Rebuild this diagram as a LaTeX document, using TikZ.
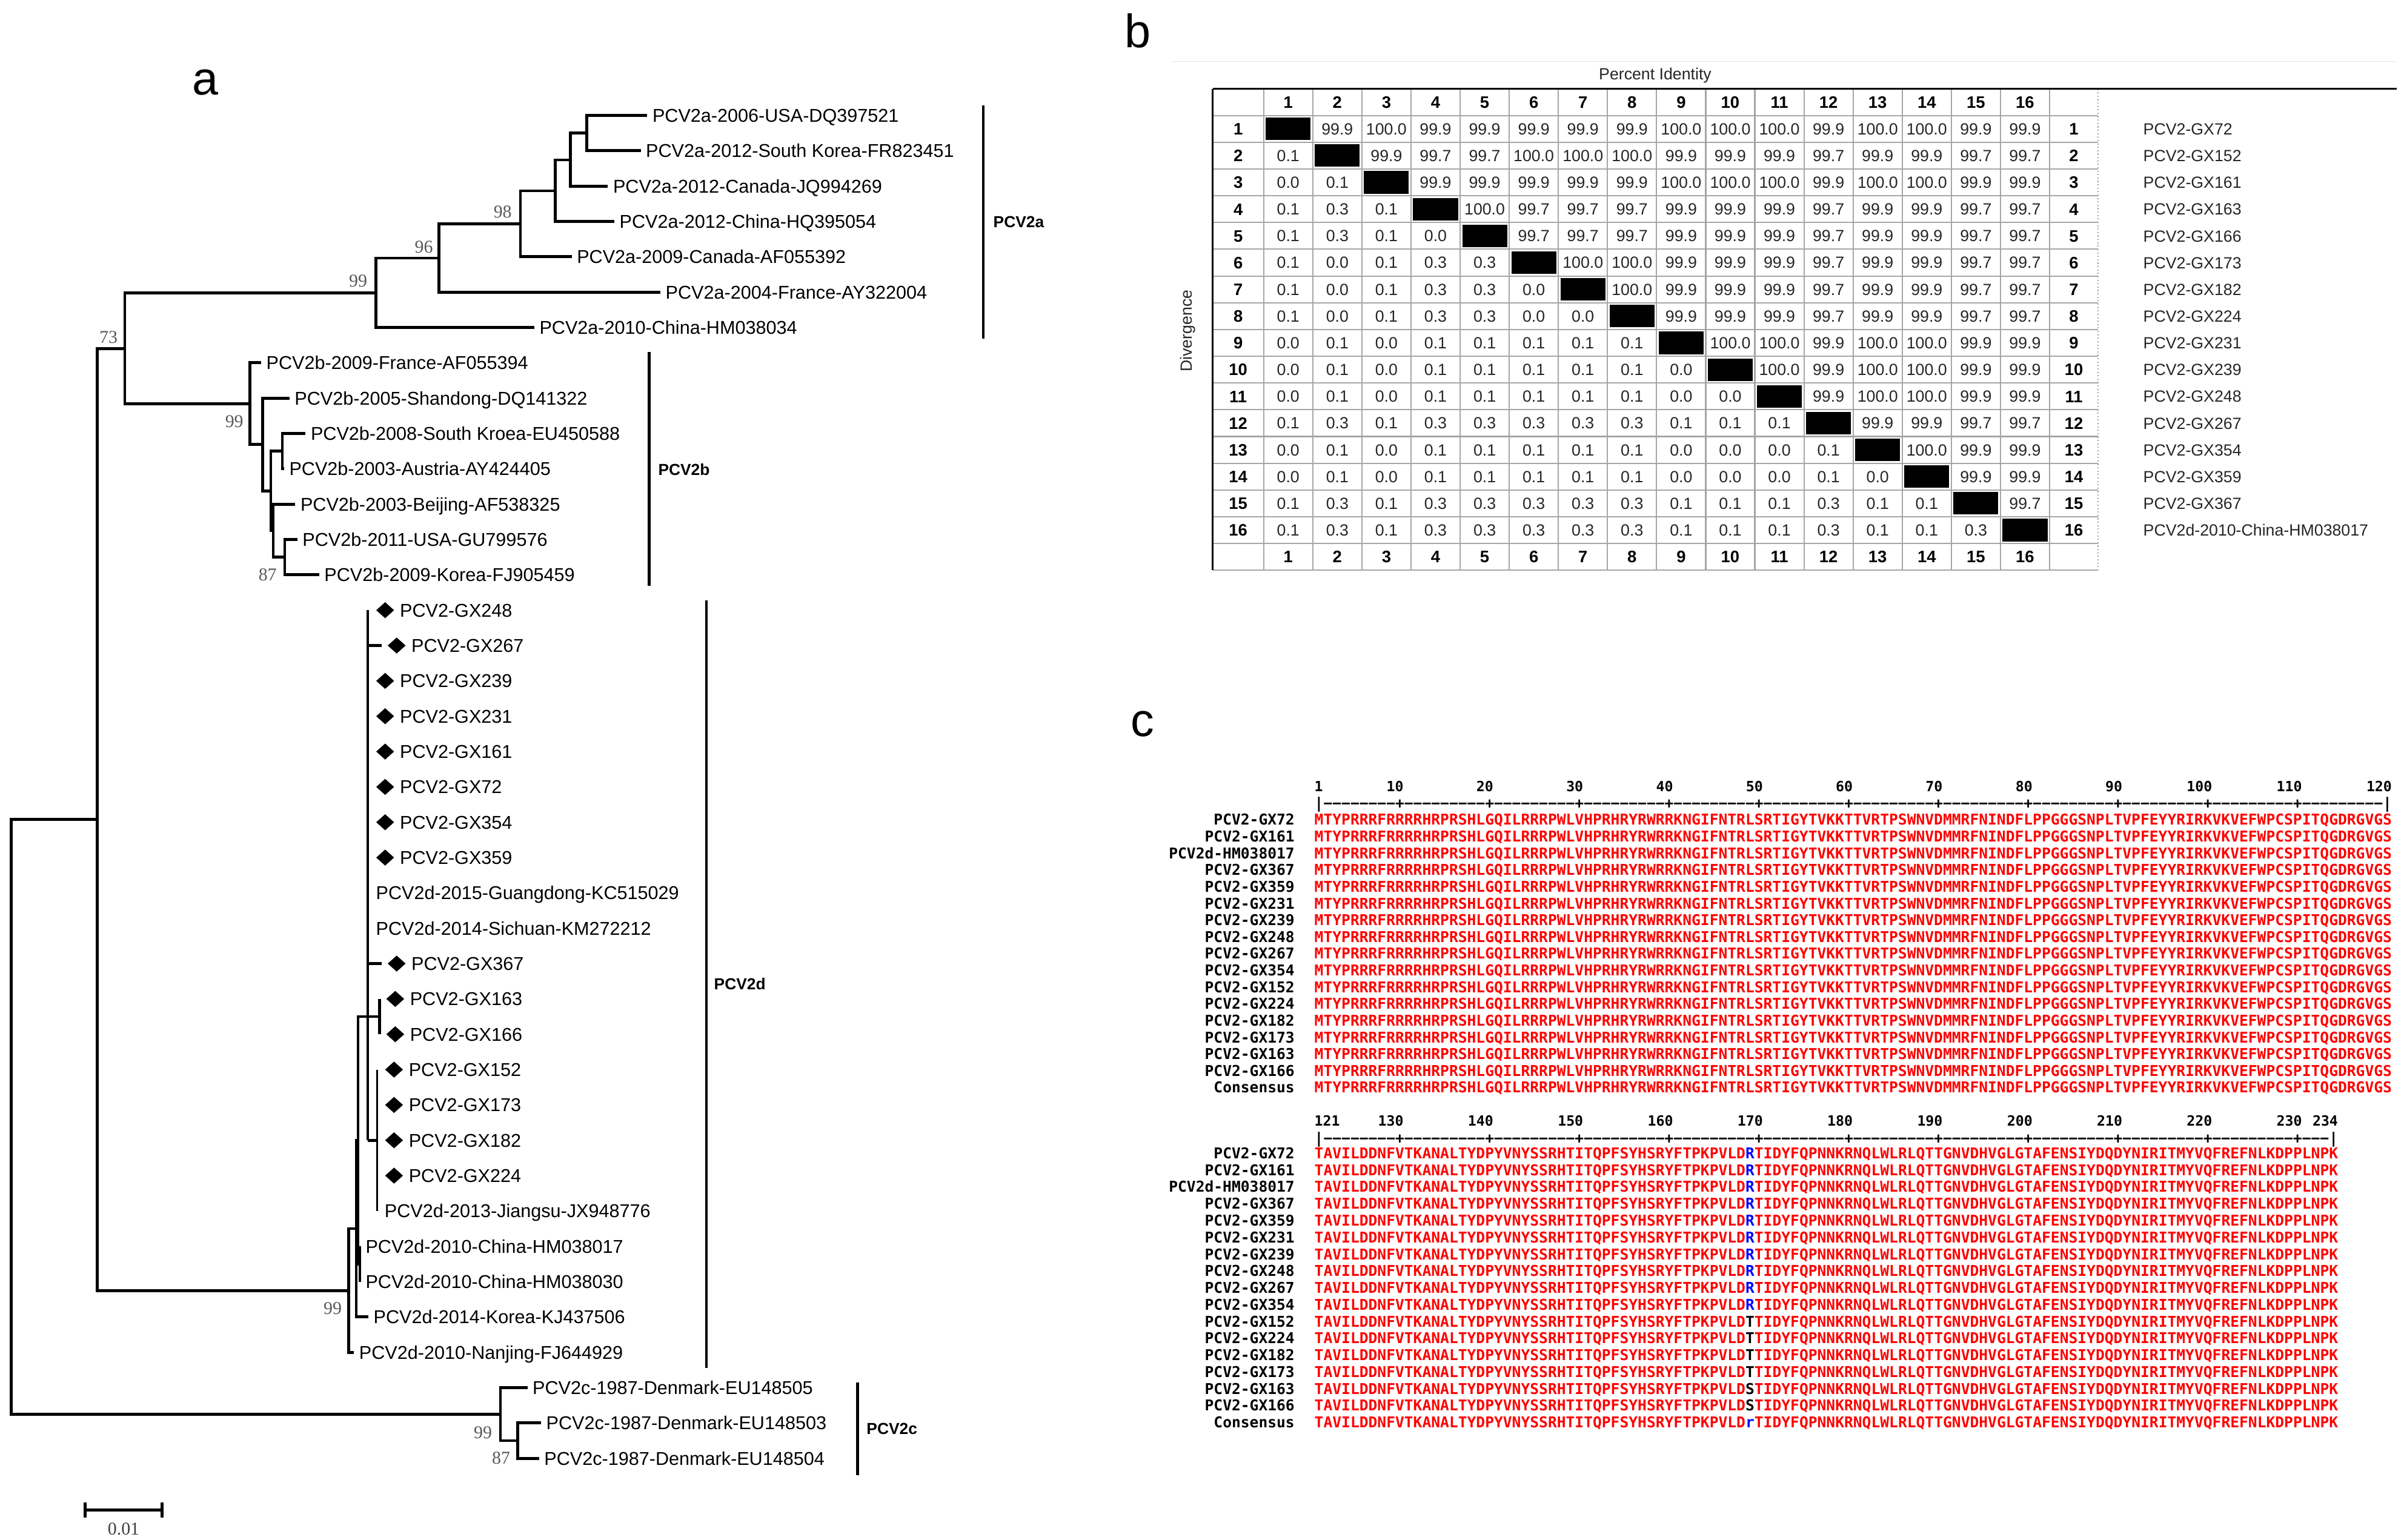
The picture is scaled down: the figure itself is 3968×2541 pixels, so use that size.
\documentclass[tikz,border=0pt]{standalone}
\usepackage{fontspec}
\setmainfont{Liberation Sans}
\newfontfamily\bsserif{Liberation Serif}
\newfontfamily\alnfont{DejaVu Sans Mono}
\usetikzlibrary{shapes.geometric}

\newcommand\treefont{\fontsize{8.7}{10}\selectfont}
\newcommand\bsfont{\bsserif\fontsize{8.5}{10}\selectfont}
\newcommand\cladefont{\bfseries\fontsize{7.5}{9}\selectfont}
\newcommand\panelfont{\fontsize{22}{26}\selectfont}
\newcommand\matfont{\fontsize{7.6}{9}\selectfont}
\newcommand\mheadfont{\bfseries\fontsize{7.8}{9}\selectfont}
\newcommand\seqfont{\alnfont\bfseries\fontsize{7}{8}\selectfont}
\newcommand\rulefont{\alnfont\bfseries\fontsize{6.6}{8}\selectfont}

\newcommand\seqA{MTYPRRRFRRRRHRPRSHLGQILRRRPWLVHPRHRYRWRRKNGIFNTRLSRTIGYTVKKTTVRTPSWNVDMMRFNINDFLPPGGGSNPLTVPFEYYRIRKVKVEFWPCSPITQGDRGVGS}
\newcommand\seqB{TAVILDDNFVTKANALTYDPYVNYSSRHTITQPFSYHSRYFTPKPVLD}
\newcommand\seqC{TIDYFQPNNKRNQLWLRLQTTGNVDHVGLGTAFENSIYDQDYNIRITMYVQFREFNLKDPPLNPK}
\newcommand\rdec{−−−−−−−−−+}
\newcommand\rulerA{|−−−−−−−−+\rdec\rdec\rdec\rdec\rdec\rdec\rdec\rdec\rdec\rdec−−−−−−−−−|}
\newcommand\rulerB{|−−−−−−−−+\rdec\rdec\rdec\rdec\rdec\rdec\rdec\rdec\rdec\rdec−−−|}

\tikzset{
    br/.style={line width=1.4pt},
    brthin/.style={line width=0.8pt},
    lbl/.style={anchor=west, inner xsep=0.08cm, inner ysep=0pt, text height=6.2pt, text depth=0pt, font=\treefont},
    dmd/.style={diamond, fill=black, anchor=west, inner sep=0pt, minimum width=0.3cm, minimum height=0.27cm},
    bs/.style={inner sep=0pt, text height=5.8pt, text depth=0pt, font=\bsfont, text=black!65},
    clade/.style={anchor=west, inner sep=0pt, text height=5.4pt, text depth=0pt, font=\cladefont},
    bar/.style={line width=1.3pt},
    panel/.style={anchor=base, inner sep=0pt, font=\panelfont},
    mgrid/.style={gray!70, line width=0.6pt},
    mcell/.style={inner sep=0pt, text height=5.4pt, text depth=0pt, font=\matfont, text=black!85},
    mhead/.style={inner sep=0pt, text height=5.6pt, text depth=0pt, font=\mheadfont},
    mname/.style={anchor=west, inner sep=0pt, text height=5.5pt, text depth=0pt, font=\matfont, text=black!85},
    mtitle/.style={inner sep=0pt, font=\matfont, text=black!85},
    aseq/.style={anchor=west, inner sep=0pt, text height=5.1pt, text depth=0pt, font=\seqfont, text=red},
    aname/.style={anchor=east, inner sep=0pt, text height=5.1pt, text depth=0pt, font=\seqfont},
    anum/.style={inner sep=0pt, text height=4.8pt, text depth=0pt, font=\rulefont}
}

\begin{document}
\begin{tikzpicture}[x=0.01cm, y=-0.01cm]
    \fill[white] (0,0) rectangle (3968,2541);
    \useasboundingbox (0,0) rectangle (3968,2541);

    % panel letters
    \node[panel] (pa) at (339,156) {a};
    \node[panel] (pb) at (1878,78) {b};
    \node[panel] (pc) at (1886,1215) {c};

    % ---- a: tree, inner nodes
    \coordinate (n6) at (968.5,219.8);
    \coordinate (n5) at (941.4,264);
    \coordinate (n4) at (916.5,315);
    \coordinate (n98) at (859,369.6);
    \coordinate (n96) at (724.5,426);
    \coordinate (n99a) at (620.4,483.8);
    \coordinate (n73) at (206,575.1);
    \coordinate (nin) at (160.5,1352.6);
    \coordinate (nroot) at (18.7,1843.4);
    \coordinate (b1) at (412.7,666.4);
    \coordinate (b2) at (433.3,733.9);
    \coordinate (b3) at (447,810.4);
    \coordinate (b4) at (466,744.8);
    \coordinate (b3b) at (451,876);
    \coordinate (b5) at (470,919.8);
    \coordinate (p0) at (607,1678);
    \coordinate (q1) at (626.5,1678);
    \coordinate (q2) at (622.4,1882.2);
    \coordinate (hm) at (594,2086.4);
    \coordinate (d2) at (591,1882.2);
    \coordinate (d1) at (588,2028);
    \coordinate (d0) at (575.5,2130.1);
    \coordinate (c1) at (826,2334.2);
    \coordinate (c2) at (854.6,2378);

    % leaves
    \node[lbl] (l0) at (1068.3,190.6) {PCV2a-2006-USA-DQ397521};
    \node[lbl] (l1) at (1057.5,248.9) {PCV2a-2012-South Korea-FR823451};
    \node[lbl] (l2) at (1003.3,307.3) {PCV2a-2012-Canada-JQ994269};
    \node[lbl] (l3) at (1014,365.6) {PCV2a-2012-China-HQ395054};
    \node[lbl] (l4) at (943.6,423.9) {PCV2a-2009-Canada-AF055392};
    \node[lbl] (l5) at (1090,482.3) {PCV2a-2004-France-AY322004};
    \node[lbl] (l6) at (881.8,540.6) {PCV2a-2010-China-HM038034};
    \node[lbl] (l7) at (431,598.9) {PCV2b-2009-France-AF055394};
    \node[lbl] (l8) at (477.7,657.2) {PCV2b-2005-Shandong-DQ141322};
    \node[lbl] (l9) at (504.3,715.6) {PCV2b-2008-South Kroea-EU450588};
    \node[lbl] (l10) at (468.8,773.9) {PCV2b-2003-Austria-AY424405};
    \node[lbl] (l11) at (487.3,832.2) {PCV2b-2003-Beijing-AF538325};
    \node[lbl] (l12) at (490.7,890.6) {PCV2b-2011-USA-GU799576};
    \node[lbl] (l13) at (526.7,948.9) {PCV2b-2009-Korea-FJ905459};
    \foreach \k/\mx/\txt in {14/620/PCV2-GX248, 15/639/PCV2-GX267, 16/620/PCV2-GX239,
        17/620/PCV2-GX231, 18/620/PCV2-GX161, 19/620/PCV2-GX72, 20/620/PCV2-GX354,
        21/620/PCV2-GX359, 24/639/PCV2-GX367, 25/636.7/PCV2-GX163, 26/636.7/PCV2-GX166,
        27/634.7/PCV2-GX152, 28/634.7/PCV2-GX173, 29/634.7/PCV2-GX182, 30/634.7/PCV2-GX224}{
        \node[dmd] (m\k) at (\mx,190.6+58.33*\k) {};
        \node[lbl] (l\k) at (m\k.east) {\txt};
    }
    \node[lbl] (l22) at (612,1473.9) {PCV2d-2015-Guangdong-KC515029};
    \node[lbl] (l23) at (612,1532.2) {PCV2d-2014-Sichuan-KM272212};
    \node[lbl] (l31) at (626.2,1998.8) {PCV2d-2013-Jiangsu-JX948776};
    \node[lbl] (l32) at (594.8,2057.2) {PCV2d-2010-China-HM038017};
    \node[lbl] (l33) at (594.8,2115.5) {PCV2d-2010-China-HM038030};
    \node[lbl] (l34) at (608,2173.8) {PCV2d-2014-Korea-KJ437506};
    \node[lbl] (l35) at (584.2,2232.2) {PCV2d-2010-Nanjing-FJ644929};
    \node[lbl] (l36) at (870.5,2290.5) {PCV2c-1987-Denmark-EU148505};
    \node[lbl] (l37) at (892.9,2348.8) {PCV2c-1987-Denmark-EU148503};
    \node[lbl] (l38) at (889.7,2407.1) {PCV2c-1987-Denmark-EU148504};

    % branches
    \draw[br] (l0.west) -| (n6) |- (l1.west);
    \draw[br] (n6) -| (n5) |- (l2.west);
    \draw[br] (n5) -| (n4) |- (l3.west);
    \draw[br] (n4) -| (n98) |- (l4.west);
    \draw[br] (n98) -| (n96) |- (l5.west);
    \draw[br] (n96) -| (n99a) |- (l6.west);
    \draw[br] (n99a) -| (n73) |- (b1);
    \draw[br] (n73) -| (nin) |- (d0);
    \draw[br] (nin) -| (nroot) |- (c1);
    \draw[br] (l7.west) -| (b1) |- (b2);
    \draw[br] (l8.west) -| (b2) |- (b3);
    \draw[br] (b4) -| (b3) |- (b3b);
    \draw[br] (l9.west) -| (b4) |- (l10.west);
    \draw[br] (l11.west) -| (b3b) |- (b5);
    \draw[br] (l12.west) -| (b5) |- (l13.west);
    \draw[br] (p0 |- m14) -- (p0 |- q2);
    \draw[br] (p0 |- m15) -- ([xshift=-0.09cm]m15.west);
    \draw[br] (p0 |- m24) -- ([xshift=-0.09cm]m24.west);
    \draw[br] (p0) -- (q1);
    \draw[br] (q1 |- m25) -- (q1 |- m26);
    \draw[brthin] (q2 |- m27) -- (q2 |- l31);
    \draw[br] (p0 |- q2) -- (q2);
    \draw[br] (p0) -| (d2) |- (hm);
    \draw[br] (hm |- l32) -- (hm |- l33);
    \draw[br] (d2) -| (d1) |- (l34.west);
    \draw[br] (d1) -| (d0) |- (l35.west);
    \draw[br] (l36.west) -| (c1) |- (c2);
    \draw[br] (l37.west) -| (c2) |- (l38.west);

    % bootstrap values
    \node[bs] (bs73) at (179,556) {73};
    \node[bs] (bs99a) at (591,462.8) {99};
    \node[bs] (bs96) at (699.6,407) {96};
    \node[bs] (bs98) at (829.7,349.7) {98};
    \node[bs] (bs99b) at (386.7,695) {99};
    \node[bs] (bs87b) at (441.7,948.3) {87};
    \node[bs] (bs99d) at (549,2159) {99};
    \node[bs] (bs99c) at (797,2364.3) {99};
    \node[bs] (bs87c) at (827,2406.7) {87};

    % scale bar
    \coordinate (scl1) at (140.3,2492.3);
    \coordinate (scl2) at (267.9,2492.3);
    \draw[br] (scl1) -- (scl2);
    \draw[br] ([yshift=0.12cm]scl1) -- ([yshift=-0.13cm]scl1);
    \draw[br] ([yshift=0.12cm]scl2) -- ([yshift=-0.13cm]scl2);
    \node[bs, text=black!75] (sclab) at (204,2523.3) {0.01};

    % clade bars
    \draw[bar] (1623,173.5) -- (1623,559);
    \node[clade] (cla) at (1639,365.8) {PCV2a};
    \draw[bar] (1071.6,581) -- (1071.6,966.8);
    \node[clade] (clb) at (1085.8,774.5) {PCV2b};
    \draw[bar] (1166,990.8) -- (1166,2258);
    \node[clade] (cld) at (1178,1623.5) {PCV2d};
    \draw[bar] (1415.4,2281.6) -- (1415.4,2434.7);
    \node[clade] (clc) at (1429.7,2358) {PCV2c};

    % ---- b: identity matrix
    \draw[gray!20, line width=0.4pt] (1933,101.5) -- (3956,101.5);
    \node[mtitle] (pid) at (2732,125) {Percent Identity};
    \node[mtitle, rotate=90] (dvg) at (1961,546) {Divergence};
    \foreach \r in {1,...,18}
        \draw[mgrid] (2001.7,146.5+44.15*\r) -- (3463,146.5+44.15*\r);
    \foreach \c in {0,...,16}
        \draw[mgrid] (2085.7+81.08*\c,146.5) -- (2085.7+81.08*\c,941.2);
    \draw[mgrid, densely dotted] (3463,146.5) -- (3463,941.2);
    \draw[line width=1pt] (2001.7,941.2) -- (2001.7,146.5);
    \draw[line width=0.8pt] (2001.7,146.5) -- (3956,146.5);
    \foreach \j in {1,...,16}{
        \node[mhead] (h\j) at (2085.7+81.08*\j-40.54,168.6) {\j};
        \node[mhead] (f\j) at (2085.7+81.08*\j-40.54,919.1) {\j};
    }
    \foreach \rname [count=\i] in {PCV2-GX72, PCV2-GX152, PCV2-GX161, PCV2-GX163, PCV2-GX166,
        PCV2-GX173, PCV2-GX182, PCV2-GX224, PCV2-GX231, PCV2-GX239, PCV2-GX248, PCV2-GX267,
        PCV2-GX354, PCV2-GX359, PCV2-GX367, PCV2d-2010-China-HM038017}{
        \node[mhead] (ri\i) at (2043.7,146.5+44.15*\i+22.07) {\i};
        \node[mhead] (rj\i) at (3423,146.5+44.15*\i+22.07) {\i};
        \node[mname] (rn\i) at (3537,146.5+44.15*\i+22.07) {\rname};
    }
    \foreach \i/\row in {
        1/{x,99.9,100.0,99.9,99.9,99.9,99.9,99.9,100.0,100.0,100.0,99.9,100.0,100.0,99.9,99.9},
        2/{0.1,x,99.9,99.7,99.7,100.0,100.0,100.0,99.9,99.9,99.9,99.7,99.9,99.9,99.7,99.7},
        3/{0.0,0.1,x,99.9,99.9,99.9,99.9,99.9,100.0,100.0,100.0,99.9,100.0,100.0,99.9,99.9},
        4/{0.1,0.3,0.1,x,100.0,99.7,99.7,99.7,99.9,99.9,99.9,99.7,99.9,99.9,99.7,99.7},
        5/{0.1,0.3,0.1,0.0,x,99.7,99.7,99.7,99.9,99.9,99.9,99.7,99.9,99.9,99.7,99.7},
        6/{0.1,0.0,0.1,0.3,0.3,x,100.0,100.0,99.9,99.9,99.9,99.7,99.9,99.9,99.7,99.7},
        7/{0.1,0.0,0.1,0.3,0.3,0.0,x,100.0,99.9,99.9,99.9,99.7,99.9,99.9,99.7,99.7},
        8/{0.1,0.0,0.1,0.3,0.3,0.0,0.0,x,99.9,99.9,99.9,99.7,99.9,99.9,99.7,99.7},
        9/{0.0,0.1,0.0,0.1,0.1,0.1,0.1,0.1,x,100.0,100.0,99.9,100.0,100.0,99.9,99.9},
        10/{0.0,0.1,0.0,0.1,0.1,0.1,0.1,0.1,0.0,x,100.0,99.9,100.0,100.0,99.9,99.9},
        11/{0.0,0.1,0.0,0.1,0.1,0.1,0.1,0.1,0.0,0.0,x,99.9,100.0,100.0,99.9,99.9},
        12/{0.1,0.3,0.1,0.3,0.3,0.3,0.3,0.3,0.1,0.1,0.1,x,99.9,99.9,99.7,99.7},
        13/{0.0,0.1,0.0,0.1,0.1,0.1,0.1,0.1,0.0,0.0,0.0,0.1,x,100.0,99.9,99.9},
        14/{0.0,0.1,0.0,0.1,0.1,0.1,0.1,0.1,0.0,0.0,0.0,0.1,0.0,x,99.9,99.9},
        15/{0.1,0.3,0.1,0.3,0.3,0.3,0.3,0.3,0.1,0.1,0.1,0.3,0.1,0.1,x,99.7},
        16/{0.1,0.3,0.1,0.3,0.3,0.3,0.3,0.3,0.1,0.1,0.1,0.3,0.1,0.1,0.3,x}}{
        \foreach \v [count=\j] in \row {
            \ifnum\i=\j
                \fill (2085.7+81.08*\j-81.08+3.5,146.5+44.15*\i+3.5) rectangle ++(74.08,37.15);
            \else
                \node[mcell] (v\i-\j) at (2085.7+81.08*\j-40.54,146.5+44.15*\i+22.07) {\v};
            \fi
        }
    }

    % ---- c: alignment
    \node[aseq, text=black] (ruA) at (2169,1325.5) {\rulerA};
    \node[aseq, text=black] (ruB) at (2169,1878.5) {\rulerB};
    \node[anum, anchor=west] (ka0) at (2169,1298) {1};
    \foreach \c in {10,20,...,120}
        \node[anum, anchor=east] (ka\c) at (2169+14.83*\c,1298) {\c};
    \node[anum, anchor=west] (kb0) at (2169,1850) {121};
    \foreach \c in {10,20,...,110}{
        \pgfmathtruncatemacro\lab{\c+120}
        \node[anum, anchor=east] (kb\c) at (2169+14.83*\c,1850) {\lab};
    }
    \node[anum, anchor=east] (kbend) at (2169+14.83*114,1850) {234};
    \foreach \rname/\res/\rcol [count=\k] in {PCV2-GX72/R/blue, PCV2-GX161/R/blue,
        PCV2d-HM038017/R/blue, PCV2-GX367/R/blue, PCV2-GX359/R/blue, PCV2-GX231/R/blue,
        PCV2-GX239/R/blue, PCV2-GX248/R/blue, PCV2-GX267/R/blue, PCV2-GX354/R/blue,
        PCV2-GX152/T/black, PCV2-GX224/T/black, PCV2-GX182/T/black, PCV2-GX173/T/black,
        PCV2-GX163/S/black, PCV2-GX166/S/black, Consensus/r/blue}{
        \node[aname] (na\k) at (2137.5,1352.9+27.63*\k-27.63) {\rname};
        \node[aseq] (sa\k) at (2169,1352.9+27.63*\k-27.63) {\seqA};
        \node[aname] (nb\k) at (2137.5,1903.5+27.75*\k-27.75) {\rname};
        \node[aseq] (sq\k) at (2169,1903.5+27.75*\k-27.75) {\seqB\textcolor{\rcol}{\res}\seqC};
    }
\end{tikzpicture}
\end{document}
